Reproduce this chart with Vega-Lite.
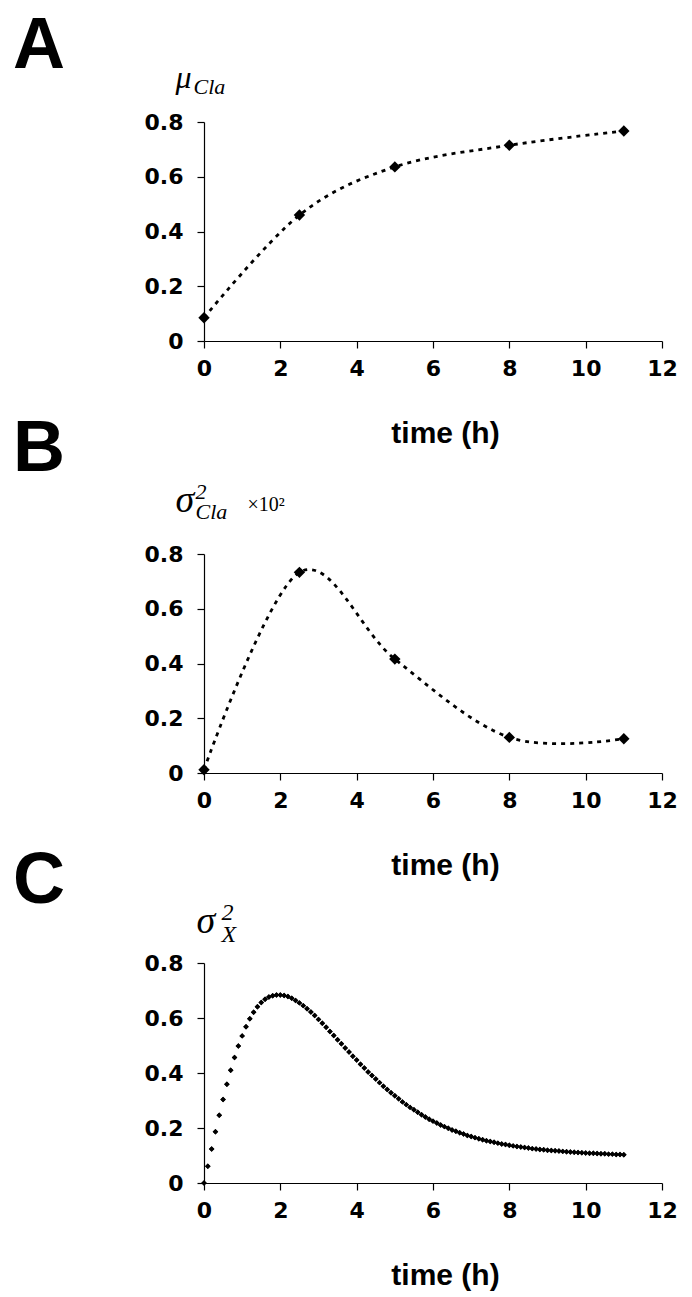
{
  "$schema": "https://vega.github.io/schema/vega-lite/v6.json",
  "padding": {"left": 13, "top": 10, "right": 5, "bottom": 5},
  "autosize": {"type": "pad"},
  "spacing": -35,
  "config": {
    "view": {"stroke": null},
    "axis": {
      "grid": false,
      "domainColor": "#000",
      "domainWidth": 1.2,
      "tickColor": "#000",
      "tickWidth": 1.2,
      "tickSize": 7,
      "labelFont": "DejaVu Sans",
      "labelFontWeight": "bold",
      "labelFontSize": 22,
      "labelColor": "#000",
      "titleColor": "#000"
    },
    "title": {"font": "Liberation Sans", "fontSize": 72, "fontWeight": "bold", "color": "#000", "anchor": "start", "frame": "group", "baseline": "alphabetic", "offset": 0}
  },
  "datasets": {
    "a": [
      {"t": 0, "v": 0.085},
      {"t": 2.5, "v": 0.46},
      {"t": 5, "v": 0.636},
      {"t": 8, "v": 0.715},
      {"t": 11, "v": 0.767}
    ],
    "b": [
      {"t": 0, "v": 0.012},
      {"t": 2.5, "v": 0.733},
      {"t": 5, "v": 0.416},
      {"t": 8, "v": 0.13},
      {"t": 11, "v": 0.125}
    ],
    "c": [
      {"t": 0.0, "v": 0.0}, {"t": 0.1, "v": 0.061}, {"t": 0.2, "v": 0.124}, {"t": 0.3, "v": 0.186}, {"t": 0.4, "v": 0.246},
      {"t": 0.5, "v": 0.304}, {"t": 0.6, "v": 0.359}, {"t": 0.7, "v": 0.41}, {"t": 0.8, "v": 0.456}, {"t": 0.9, "v": 0.498},
      {"t": 1.0, "v": 0.535}, {"t": 1.1, "v": 0.568}, {"t": 1.2, "v": 0.597}, {"t": 1.3, "v": 0.621}, {"t": 1.4, "v": 0.641},
      {"t": 1.5, "v": 0.656}, {"t": 1.6, "v": 0.668}, {"t": 1.7, "v": 0.676}, {"t": 1.8, "v": 0.681}, {"t": 1.9, "v": 0.684},
      {"t": 2.0, "v": 0.684}, {"t": 2.1, "v": 0.682}, {"t": 2.2, "v": 0.678}, {"t": 2.3, "v": 0.672}, {"t": 2.4, "v": 0.664},
      {"t": 2.5, "v": 0.655}, {"t": 2.6, "v": 0.645}, {"t": 2.7, "v": 0.634}, {"t": 2.8, "v": 0.622}, {"t": 2.9, "v": 0.609},
      {"t": 3.0, "v": 0.595}, {"t": 3.1, "v": 0.581}, {"t": 3.2, "v": 0.566}, {"t": 3.3, "v": 0.551}, {"t": 3.4, "v": 0.536},
      {"t": 3.5, "v": 0.521}, {"t": 3.6, "v": 0.506}, {"t": 3.7, "v": 0.491}, {"t": 3.8, "v": 0.476}, {"t": 3.9, "v": 0.461},
      {"t": 4.0, "v": 0.447}, {"t": 4.1, "v": 0.432}, {"t": 4.2, "v": 0.418}, {"t": 4.3, "v": 0.404}, {"t": 4.4, "v": 0.391},
      {"t": 4.5, "v": 0.378}, {"t": 4.6, "v": 0.365}, {"t": 4.7, "v": 0.352}, {"t": 4.8, "v": 0.34}, {"t": 4.9, "v": 0.328},
      {"t": 5.0, "v": 0.317}, {"t": 5.1, "v": 0.306}, {"t": 5.2, "v": 0.295}, {"t": 5.3, "v": 0.285}, {"t": 5.4, "v": 0.275},
      {"t": 5.5, "v": 0.266}, {"t": 5.6, "v": 0.257}, {"t": 5.7, "v": 0.248}, {"t": 5.8, "v": 0.24}, {"t": 5.9, "v": 0.232},
      {"t": 6.0, "v": 0.225}, {"t": 6.1, "v": 0.218}, {"t": 6.2, "v": 0.211}, {"t": 6.3, "v": 0.205}, {"t": 6.4, "v": 0.199},
      {"t": 6.5, "v": 0.193}, {"t": 6.6, "v": 0.188}, {"t": 6.7, "v": 0.183}, {"t": 6.8, "v": 0.178}, {"t": 6.9, "v": 0.173},
      {"t": 7.0, "v": 0.169}, {"t": 7.1, "v": 0.165}, {"t": 7.2, "v": 0.161}, {"t": 7.3, "v": 0.157}, {"t": 7.4, "v": 0.154},
      {"t": 7.5, "v": 0.151}, {"t": 7.6, "v": 0.148}, {"t": 7.7, "v": 0.145}, {"t": 7.8, "v": 0.142}, {"t": 7.9, "v": 0.14},
      {"t": 8.0, "v": 0.137}, {"t": 8.1, "v": 0.135}, {"t": 8.2, "v": 0.133}, {"t": 8.3, "v": 0.131}, {"t": 8.4, "v": 0.129},
      {"t": 8.5, "v": 0.127}, {"t": 8.6, "v": 0.125}, {"t": 8.7, "v": 0.124}, {"t": 8.8, "v": 0.122}, {"t": 8.9, "v": 0.121},
      {"t": 9.0, "v": 0.119}, {"t": 9.1, "v": 0.118}, {"t": 9.2, "v": 0.117}, {"t": 9.3, "v": 0.116}, {"t": 9.4, "v": 0.115},
      {"t": 9.5, "v": 0.114}, {"t": 9.6, "v": 0.113}, {"t": 9.7, "v": 0.112}, {"t": 9.8, "v": 0.111}, {"t": 9.9, "v": 0.11},
      {"t": 10.0, "v": 0.109}, {"t": 10.1, "v": 0.108}, {"t": 10.2, "v": 0.108}, {"t": 10.3, "v": 0.107}, {"t": 10.4, "v": 0.106},
      {"t": 10.5, "v": 0.106}, {"t": 10.6, "v": 0.105}, {"t": 10.7, "v": 0.105}, {"t": 10.8, "v": 0.104}, {"t": 10.9, "v": 0.104},
      {"t": 11.0, "v": 0.103}
    ]
  },
  "vconcat": [
    {
      "width": 458,
      "height": 219,
      "title": {"text": "A", "dx": -191, "dy": 26},
      "data": {"name": "a"},
      "layer": [
        {
          "mark": {"type": "line", "interpolate": "cardinal", "strokeDash": [4, 5], "strokeWidth": 2.8, "color": "#000"},
          "encoding": {
            "x": {"field": "t", "type": "quantitative", "scale": {"domain": [0, 12]},
              "axis": {"values": [0, 2, 4, 6, 8, 10, 12], "labelFlush": false, "labelPadding": 10,
                "title": "time (h)", "titleFont": "Liberation Sans", "titleFontWeight": "bold", "titleFontSize": 30,
                "titleX": 241, "titleY": 101, "titleAlign": "center", "titleBaseline": "alphabetic"}},
            "y": {"field": "v", "type": "quantitative", "scale": {"domain": [0, 0.8]},
              "axis": {"values": [0, 0.2, 0.4, 0.6, 0.8], "format": "~g", "labelPadding": 14,
                "title": "μ", "titleFont": "Liberation Serif", "titleFontStyle": "italic", "titleFontWeight": "normal", "titleFontSize": 32,
                "titleAngle": 0, "titleAlign": "left", "titleBaseline": "alphabetic", "titleX": -29, "titleY": -35}}
          }
        },
        {
          "mark": {"type": "point", "shape": "diamond", "filled": true, "size": 130, "color": "#000", "opacity": 1},
          "encoding": {
            "x": {"field": "t", "type": "quantitative",
              "axis": {"orient": "top", "domain": false, "ticks": false, "labels": false,
                "title": "Cla", "titleFont": "Liberation Serif", "titleFontStyle": "italic", "titleFontWeight": "normal", "titleFontSize": 22,
                "titleAngle": 0, "titleAlign": "left", "titleBaseline": "alphabetic", "titleX": -11, "titleY": -29}},
            "y": {"field": "v", "type": "quantitative", "axis": null}
          }
        }
      ],
      "resolve": {"axis": {"x": "independent", "y": "independent"}}
    },
    {
      "width": 458,
      "height": 219,
      "title": {"text": "B", "dx": -191, "dy": 10},
      "data": {"name": "b"},
      "layer": [
        {
          "mark": {"type": "line", "interpolate": "cardinal", "strokeDash": [4, 5], "strokeWidth": 2.8, "color": "#000"},
          "encoding": {
            "x": {"field": "t", "type": "quantitative", "scale": {"domain": [0, 12]},
              "axis": {"values": [0, 2, 4, 6, 8, 10, 12], "labelFlush": false, "labelPadding": 10,
                "title": "time (h)", "titleFont": "Liberation Sans", "titleFontWeight": "bold", "titleFontSize": 30,
                "titleX": 241, "titleY": 101, "titleAlign": "center", "titleBaseline": "alphabetic"}},
            "y": {"field": "v", "type": "quantitative", "scale": {"domain": [0, 0.8]},
              "axis": {"values": [0, 0.2, 0.4, 0.6, 0.8], "format": "~g", "labelPadding": 14,
                "title": "σ", "titleFont": "Liberation Serif", "titleFontStyle": "italic", "titleFontWeight": "normal", "titleFontSize": 38,
                "titleAngle": 0, "titleAlign": "left", "titleBaseline": "alphabetic", "titleX": -29, "titleY": -43}}
          }
        },
        {
          "mark": {"type": "point", "shape": "diamond", "filled": true, "size": 130, "color": "#000", "opacity": 1},
          "encoding": {
            "x": {"field": "t", "type": "quantitative",
              "axis": {"orient": "top", "domain": false, "ticks": false, "labels": false,
                "title": ["2", "Cla"], "titleFont": "Liberation Serif", "titleFontStyle": "italic", "titleFontWeight": "normal", "titleFontSize": 22,
                "titleLineHeight": 20,
                "titleAngle": 0, "titleAlign": "left", "titleBaseline": "alphabetic", "titleX": -9, "titleY": -56}},
            "y": {"field": "v", "type": "quantitative",
              "axis": {"orient": "right", "domain": false, "ticks": false, "labels": false,
                "title": "×10²", "titleFont": "Liberation Serif", "titleFontWeight": "normal", "titleFontSize": 20,
                "titleAngle": 0, "titleAlign": "left", "titleBaseline": "alphabetic", "titleX": -415, "titleY": -44}}
          }
        }
      ],
      "resolve": {"axis": {"x": "independent", "y": "independent"}}
    },
    {
      "width": 458,
      "height": 220,
      "title": {"text": "C", "dx": -191, "dy": 22},
      "data": {"name": "c"},
      "layer": [
        {
          "mark": {"type": "point", "shape": "diamond", "filled": true, "size": 30, "color": "#000", "opacity": 1},
          "encoding": {
            "x": {"field": "t", "type": "quantitative", "scale": {"domain": [0, 12]},
              "axis": {"values": [0, 2, 4, 6, 8, 10, 12], "labelFlush": false, "labelPadding": 10,
                "title": "time (h)", "titleFont": "Liberation Sans", "titleFontWeight": "bold", "titleFontSize": 30,
                "titleX": 241, "titleY": 101, "titleAlign": "center", "titleBaseline": "alphabetic"}},
            "y": {"field": "v", "type": "quantitative", "scale": {"domain": [0, 0.8]},
              "axis": {"values": [0, 0.2, 0.4, 0.6, 0.8], "format": "~g", "labelPadding": 14,
                "title": "σ", "titleFont": "Liberation Serif", "titleFontStyle": "italic", "titleFontWeight": "normal", "titleFontSize": 38,
                "titleAngle": 0, "titleAlign": "left", "titleBaseline": "alphabetic", "titleX": -8, "titleY": -31}}
          }
        },
        {
          "mark": {"type": "point", "shape": "diamond", "filled": true, "size": 30, "color": "#000", "opacity": 1},
          "encoding": {
            "x": {"field": "t", "type": "quantitative",
              "axis": {"orient": "top", "domain": false, "ticks": false, "labels": false,
                "title": ["2", "X"], "titleFont": "Liberation Serif", "titleFontStyle": "italic", "titleFontWeight": "normal", "titleFontSize": 24,
                "titleLineHeight": 22,
                "titleAngle": 0, "titleAlign": "left", "titleBaseline": "alphabetic", "titleX": 17, "titleY": -44}},
            "y": {"field": "v", "type": "quantitative", "axis": null}
          }
        }
      ],
      "resolve": {"axis": {"x": "independent", "y": "independent"}}
    }
  ]
}
